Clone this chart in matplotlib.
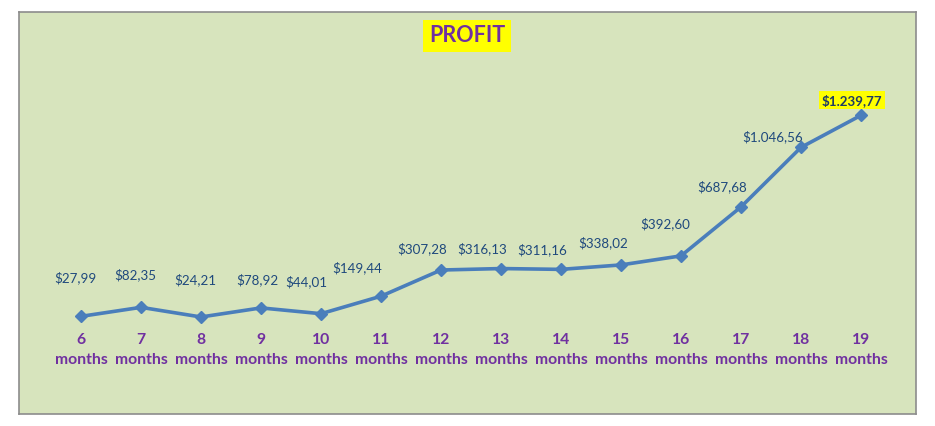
import matplotlib
matplotlib.use("Agg")
import matplotlib.pyplot as plt
import matplotlib.transforms as mtransforms

months = [6, 7, 8, 9, 10, 11, 12, 13, 14, 15, 16, 17, 18, 19]
profit = [27.99, 82.35, 24.21, 78.92, 44.01, 149.44, 307.28, 316.13,
          311.16, 338.02, 392.60, 687.68, 1046.56, 1239.77]
value_labels = ["$27,99", "$82,35", "$24,21", "$78,92", "$44,01", "$149,44",
                "$307,28", "$316,13", "$311,16", "$338,02", "$392,60",
                "$687,68", "$1.046,56", "$1.239,77"]
tick_labels = [f"{m}\nmonths" for m in months]

# label layout offsets (pixels) relative to each point
label_dx = [-6, -6, -6, -4, -15, -24, -19, -19, -19, -18, -16, -19, -28, -9]
label_dy = [39, 33, 37, 28, 32, 28, 21, 20, 20, 22, 32, 20, 11, 15]

W, H = 935, 426
fig = plt.figure(figsize=(W / 100, H / 100), dpi=100, facecolor="white")
L, R, T, B = 19, 916, 12, 414
ax = fig.add_axes([L / W, 1 - B / H, (R - L) / W, (B - T) / H])
ax.set_facecolor("#D7E4BD")
for s in ax.spines.values():
    s.set_color("#8C8C8C")
    s.set_linewidth(1.2)

xs = list(range(len(months)))
ax.plot(xs, profit, color="#4A7EBB", lw=2.6, marker="D", ms=6,
        markerfacecolor="#4A7EBB", markeredgecolor="#4A7EBB", zorder=3)

ax.set_xlim(-62 / 60, 13 + 55 / 60)
ax.set_ylim(-560.6, 1862.6)
ax.set_xticks([])
ax.set_yticks([])

font = "Lato"
for i, (x, v, lab) in enumerate(zip(xs, profit, value_labels)):
    last = i == len(xs) - 1
    kw = dict(fontsize=9.6, color="#1F497D", ha="center", va="center",
              family=font, textcoords="offset pixels",
              xytext=(label_dx[i], label_dy[i]), zorder=4)
    if last:
        kw.update(fontweight="bold", color="#1F3B64",
                  bbox=dict(boxstyle="square,pad=0.2", fc="#FFFF00", ec="none"))
    ax.annotate(lab, (x, v), **kw)

trans = mtransforms.blended_transform_factory(ax.transData, ax.transAxes)
for x, m in zip(xs, months):
    ax.text(x, 1 - (340 - T) / (B - T), str(m), transform=trans, ha="center",
            va="center", fontsize=11.3, fontweight="bold", color="#7030A0",
            family=font)
    ax.text(x, 1 - (360 - T) / (B - T), "months", transform=trans,
            ha="center", va="center", fontsize=11.3, fontweight="bold",
            color="#7030A0", family=font)

fig.text(467 / W, 1 - 36 / H, "PROFIT", ha="center", va="center",
         fontsize=15.5, fontweight="bold", color="#7030A0", family=font,
         bbox=dict(boxstyle="square,pad=0.25", fc="#FFFF00", ec="none"))

fig.savefig("out.png", dpi=100, facecolor="white")
